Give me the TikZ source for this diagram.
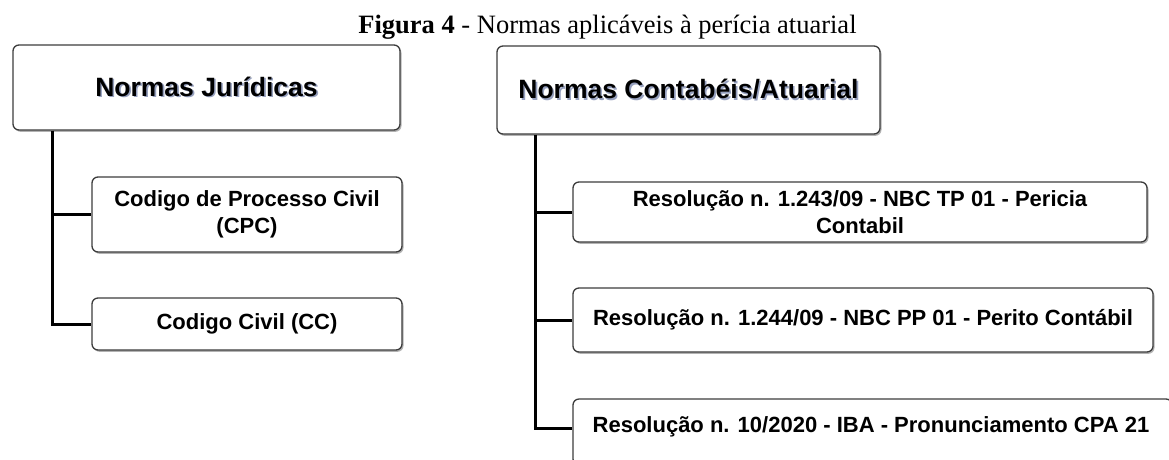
\documentclass[tikz,border=0pt]{standalone}
\usepackage{fontspec}
\setmainfont{Liberation Serif}
\newfontfamily\arialf{Liberation Sans}
\usetikzlibrary{shadows}
\definecolor{txtshadow}{RGB}{150,160,190}
\definecolor{boxline}{RGB}{60,60,60}
\newcommand{\shtext}[1]{\makebox[0pt][l]{\raisebox{-1.6pt}{\kern1.6pt\textcolor{txtshadow}{#1}}}#1}
\begin{document}
\begin{tikzpicture}[x=1pt,y=-1pt]
\tikzset{
  box/.style={draw=boxline, line width=1.3pt, rounded corners=6pt, fill=white,
    drop shadow={shadow xshift=1.5pt, shadow yshift=-1.8pt, opacity=0.3, fill=black},
    inner sep=0pt, align=center,
    font=\arialf\bfseries\fontsize{22}{27.5}\selectfont},
  head/.style={box, font=\arialf\bfseries\fontsize{26.5}{30}\selectfont},
  label/.style={inner sep=0pt, anchor=base, font=\arialf\bfseries\fontsize{22}{27}\selectfont},
  conn/.style={line width=3pt, draw=black},
}
\useasboundingbox (0,0) rectangle (1169,459);
\clip (0,0) rectangle (1169,459);
\fill[white] (0,0) rectangle (1169,459);

% title
\node[inner sep=0pt, anchor=base, font=\fontsize{26.5}{30}\selectfont] (title) at (607.5,33.5)
  {\textbf{Figura 4} - Normas aplicáveis à perícia atuarial};

% left column
\node[head, minimum width=387pt, minimum height=85pt] (jur) at (206.5,87.5)
  {\shtext{Normas Jurídicas}};
\node[box, minimum width=310pt, minimum height=75pt] (cpc) at (247,214.5)
  {Codigo de Processo Civil\\(CPC)};
\node[box, minimum width=310pt, minimum height=52pt] (cc) at (247,324)
  {Codigo Civil (CC)};

% right column
\node[head, minimum width=383pt, minimum height=88pt] (cont) at (688.5,90)
  {\shtext{Normas Contabéis/Atuarial}};
\node[box, minimum width=574pt, minimum height=60pt] (r1) at (860,212)
  {Resolução n. 1.243/09 - NBC TP 01 - Pericia\\Contabil};
\node[box, minimum width=580pt, minimum height=64pt] (r2) at (863,320)
  {Resolução n. 1.244/09 - NBC PP 01 - Perito Contábil};
\node[box, minimum width=599pt, minimum height=66pt] (r3) at (872.5,432) {};
\node[label] (r3t) at (871,432) {Resolução n. 10/2020 - IBA - Pronunciamento CPA 21};

% trunks
\coordinate (tj) at (52,0);
\coordinate (tc) at (535,0);
\draw[conn] (jur.south -| tj) |- (cc.west);
\draw[conn] (tj |- cpc.west) -- (cpc.west);
\draw[conn] (cont.south -| tc) |- ([yshift=4pt]r3.west);
\draw[conn] (tc |- r1.west) -- (r1.west);
\draw[conn] (tc |- r2.west) -- (r2.west);
\end{tikzpicture}
\end{document}
